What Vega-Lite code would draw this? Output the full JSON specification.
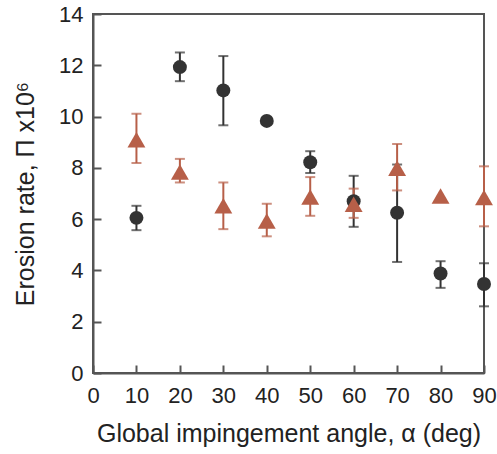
{
  "$schema": "https://vega.github.io/schema/vega-lite/v6.json",
  "width": 391,
  "height": 359,
  "autosize": "none",
  "padding": {"left": 93, "top": 14, "right": 13, "bottom": 81},
  "background": "white",
  "config": {
    "view": {"stroke": "#555555", "strokeWidth": 2},
    "axis": {
      "domainColor": "#555555", "domainWidth": 2,
      "tickColor": "#555555", "tickWidth": 2, "tickSize": -8,
      "grid": false, "labelFlush": false, "labelOverlap": false,
      "labelFont": "Liberation Sans", "labelFontSize": 22, "labelColor": "#222222",
      "titleFont": "Liberation Sans", "titleFontSize": 25, "titleFontWeight": "normal", "titleColor": "#222222"
    }
  },
  "data": {"values": [
    {"angle": 10, "series": "A", "value": 6.05, "lo": 5.57, "hi": 6.52},
    {"angle": 20, "series": "A", "value": 11.93, "lo": 11.38, "hi": 12.5},
    {"angle": 30, "series": "A", "value": 11.02, "lo": 9.66, "hi": 12.36},
    {"angle": 40, "series": "A", "value": 9.83, "lo": null, "hi": null},
    {"angle": 50, "series": "A", "value": 8.22, "lo": 7.8, "hi": 8.65},
    {"angle": 60, "series": "A", "value": 6.7, "lo": 5.7, "hi": 7.69},
    {"angle": 70, "series": "A", "value": 6.25, "lo": 4.33, "hi": 8.13},
    {"angle": 80, "series": "A", "value": 3.88, "lo": 3.32, "hi": 4.36},
    {"angle": 90, "series": "A", "value": 3.47, "lo": 2.6, "hi": 4.28},
    {"angle": 10, "series": "B", "value": 9.1, "lo": 8.19, "hi": 10.11},
    {"angle": 20, "series": "B", "value": 7.84, "lo": 7.43, "hi": 8.35},
    {"angle": 30, "series": "B", "value": 6.52, "lo": 5.61, "hi": 7.43},
    {"angle": 40, "series": "B", "value": 5.93, "lo": 5.33, "hi": 6.6},
    {"angle": 50, "series": "B", "value": 6.86, "lo": 6.13, "hi": 7.64},
    {"angle": 60, "series": "B", "value": 6.58, "lo": 6.05, "hi": 7.19},
    {"angle": 70, "series": "B", "value": 7.98, "lo": 7.12, "hi": 8.93},
    {"angle": 80, "series": "B", "value": 6.9, "lo": null, "hi": null},
    {"angle": 90, "series": "B", "value": 6.84, "lo": 5.72, "hi": 8.06}
  ]},
  "encoding": {
    "x": {
      "field": "angle", "type": "quantitative",
      "scale": {"domain": [0, 90], "nice": false},
      "axis": {"values": [0, 10, 20, 30, 40, 50, 60, 70, 80, 90], "title": "Global impingement angle, α (deg)", "titlePadding": 15, "labelPadding": 20}
    },
    "color": {
      "field": "series", "type": "nominal",
      "scale": {"domain": ["A", "B"], "range": ["#333333", "#b75f48"]},
      "legend": null
    }
  },
  "layer": [
    {
      "mark": {"type": "rule", "strokeWidth": 2},
      "encoding": {
        "y": {"field": "lo", "type": "quantitative", "scale": {"domain": [0, 14], "nice": false},
              "axis": {"values": [0, 2, 4, 6, 8, 10, 12, 14], "title": "Erosion rate, Π x10⁶", "titlePadding": 20, "labelPadding": 18}},
        "y2": {"field": "hi"}
      }
    },
    {
      "mark": {"type": "tick", "orient": "horizontal", "size": 10, "thickness": 2},
      "encoding": {"y": {"field": "lo", "type": "quantitative"}}
    },
    {
      "mark": {"type": "tick", "orient": "horizontal", "size": 10, "thickness": 2},
      "encoding": {"y": {"field": "hi", "type": "quantitative"}}
    },
    {
      "transform": [{"filter": "datum.series == 'A'"}],
      "mark": {"type": "point", "shape": "circle", "filled": true, "opacity": 1, "size": 195},
      "encoding": {"y": {"field": "value", "type": "quantitative"}}
    },
    {
      "transform": [{"filter": "datum.series == 'B'"}],
      "mark": {"type": "point", "shape": "triangle-up", "filled": true, "opacity": 1, "size": 320},
      "encoding": {"y": {"field": "value", "type": "quantitative"}}
    }
  ]
}
